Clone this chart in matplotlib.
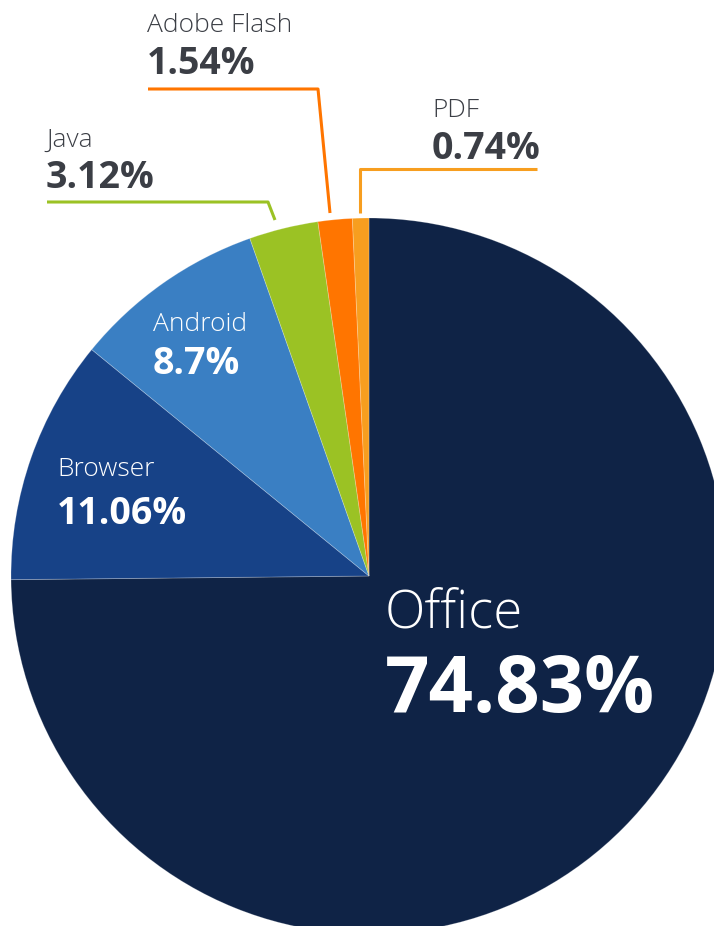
import matplotlib
matplotlib.use("Agg")
import matplotlib.pyplot as plt

# Share of exploits by target application
labels = ["Office", "Browser", "Android", "Java", "Adobe Flash", "PDF"]
shares = [74.83, 11.06, 8.7, 3.12, 1.54, 0.74]
share_text = ["74.83%", "11.06%", "8.7%", "3.12%", "1.54%", "0.74%"]
colors = ["#0f2346", "#174287", "#3a7fc3", "#9bc224", "#ff7500", "#f79e1f"]

W, H = 714, 926
DARK = "#3b3e45"
FONT = "Open Sans"


def py(y):
    # pixel row (from top) -> data y
    return H - y


fig = plt.figure(figsize=(W / 100, H / 100), dpi=100)
ax = fig.add_axes([0, 0, 1, 1])

ax.pie(
    shares,
    colors=colors,
    startangle=90,
    counterclock=False,
    center=(369, py(576)),
    radius=358,
    wedgeprops=dict(linewidth=0.6, edgecolor="#ffffff40"),
    frame=True,
)
ax.set_xlim(0, W)
ax.set_ylim(0, H)
ax.set_aspect("equal")
ax.axis("off")

# labels inside the pie: (index, x, name baseline, value baseline, name size, value size)
inside = [
    (0, 385, 627, 712, 38, 56),
    (1, 57, 476, 524, 19, 27),
    (2, 153, 331, 374, 19, 27),
]
for i, x, yb1, yb2, s1, s2 in inside:
    ax.text(x, py(yb1), labels[i], color="white", fontsize=s1,
            family=FONT, fontweight="light", va="baseline")
    ax.text(x, py(yb2), share_text[i], color="white", fontsize=s2,
            family=FONT, fontweight="bold", va="baseline")

# labels outside with leader lines
outside = [
    (3, 46, 147, 188, [(47, 202), (268, 202), (275, 220)]),
    (4, 147, 32, 74, [(148, 89), (318, 89), (330, 213)]),
    (5, 432, 117, 159, [(537, 169), (360, 169), (360, 213)]),
]
for i, x, yb1, yb2, pts in outside:
    ax.text(x, py(yb1), labels[i], color=DARK, fontsize=19,
            family=FONT, fontweight="light", va="baseline")
    ax.text(x, py(yb2), share_text[i], color=DARK, fontsize=27,
            family=FONT, fontweight="bold", va="baseline")
    ax.plot([p[0] for p in pts], [py(p[1]) for p in pts],
            color=colors[i], linewidth=2.2, solid_capstyle="butt")

fig.savefig("out.png", dpi=100)
